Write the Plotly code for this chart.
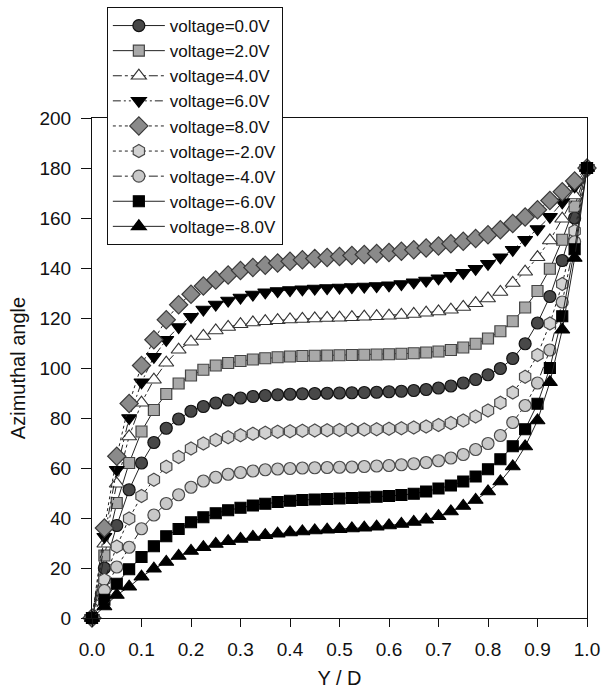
import plotly.graph_objects as go

# Y/D positions (41 points, step 0.025)
yd = [round(i * 0.025, 3) for i in range(41)]

v_p0 = [0, 20, 37, 51.3, 62, 70.2, 75.9, 79.6, 82.7, 84.6, 86, 87.2, 88, 88.6, 89, 89.3, 89.5,
        89.7, 89.8, 89.9, 90, 90.1, 90.2, 90.3, 90.5, 90.7, 91, 91.4, 92, 92.8, 94, 95.4, 97.3,
        99.8, 103.8, 109.7, 118, 128.6, 143, 160, 180]
v_p2 = [0, 25, 46, 62, 74.6, 83.2, 89.6, 93.8, 97, 99.3, 101, 102, 102.8, 103.4, 103.9, 104.3, 104.6,
        104.8, 104.9, 105, 105.1, 105.2, 105.3, 105.4, 105.5, 105.7, 105.9, 106.2, 106.6, 107.2, 108.2,
        109.7, 111.8, 114.7, 118.7, 124.2, 130.8, 139.7, 151.3, 164.6, 180]
v_p4 = [0, 29.7, 53.7, 72.6, 86.1, 95.3, 102.1, 107.3, 110.5, 112.8, 115, 116.4, 117.5, 118.2, 118.7,
        119.1, 119.4, 119.6, 119.8, 120, 120.1, 120.3, 120.5, 120.7, 120.9, 121.2, 121.6, 122.1, 122.6,
        123.3, 124.4, 125.9, 127.8, 130.4, 134, 138.5, 144.3, 151, 159.7, 169, 180]
v_p6 = [0, 32.5, 59.3, 80, 94.3, 104.5, 111.3, 116.4, 120.5, 123.4, 125.4, 127, 128.2, 129.4, 130.3,
        130.8, 131.2, 131.5, 131.8, 132, 132.2, 132.4, 132.6, 132.8, 133.1, 133.6, 134.3, 135, 135.9,
        136.9, 138.1, 139.7, 141.7, 144.3, 147.3, 151.3, 155.6, 160.5, 166.3, 172.7, 180]
v_p8 = [0, 36, 64.7, 85.8, 101, 111.3, 119.3, 125.3, 129.5, 132.8, 135.2, 137.2, 139, 140.2, 141.1,
        142, 142.7, 143.3, 143.8, 144.2, 144.6, 145, 145.4, 145.8, 146.2, 146.7, 147.3, 148, 148.8,
        149.7, 150.7, 151.8, 153.3, 155.3, 157.8, 160.4, 163.3, 167, 170.5, 174.8, 180]
v_m2 = [0, 15.3, 28.6, 39.8, 48.8, 55.3, 60.5, 64.4, 67.8, 69.8, 71.2, 72.3, 73.1, 73.7, 74.1, 74.5,
        74.7, 74.9, 75, 75.1, 75.2, 75.3, 75.4, 75.5, 75.7, 75.9, 76.2, 76.6, 77.2, 78, 79, 80.6, 83,
        86.1, 90.2, 96.5, 105.2, 117.8, 133.6, 154.8, 180]
v_m4 = [0, 11, 20.4, 28.3, 35.7, 41.2, 45.8, 49.3, 52.3, 54.8, 56.3, 57.5, 58.2, 58.8, 59.3, 59.6,
        59.8, 60, 60.1, 60.2, 60.3, 60.4, 60.6, 60.8, 61, 61.3, 61.7, 62.2, 62.9, 64, 65.4, 67.4, 69.8,
        73, 78.2, 85, 94, 107.2, 126.4, 150.5, 180]
v_m6 = [0, 7.3, 13.7, 19.5, 24.4, 28.7, 32.7, 35.6, 38.3, 40.3, 41.9, 43.1, 44.1, 45, 45.7, 46.4,
        46.9, 47.2, 47.4, 47.6, 47.8, 48, 48.2, 48.5, 48.8, 49.2, 49.7, 50.6, 51.8, 53, 54.6, 56.6,
        59.5, 63.5, 68.7, 75.5, 85.7, 100, 120.7, 147.5, 180]
v_m8 = [0, 4.6, 9.2, 12.5, 16.5, 19.7, 22.4, 24.8, 26.8, 28.3, 29.6, 30.7, 31.6, 32.4, 33.1, 33.7,
        34.2, 34.6, 35, 35.3, 35.5, 35.8, 36.1, 36.5, 37, 37.6, 38.4, 39.3, 40.7, 42.6, 44.8, 47.2,
        50.6, 54.6, 60.6, 68.6, 79, 94.3, 115.3, 144, 180]

names = ["voltage=0.0V", "voltage=2.0V", "voltage=4.0V", "voltage=6.0V", "voltage=8.0V",
         "voltage=-2.0V", "voltage=-4.0V", "voltage=-6.0V", "voltage=-8.0V"]
series = [v_p0, v_p2, v_p4, v_p6, v_p8, v_m2, v_m4, v_m6, v_m8]

styles = [
    dict(symbol="circle", fill="#484848", edge="#111111", size=12, dash="solid"),
    dict(symbol="square", fill="#a9a9a9", edge="#444444", size=11, dash="solid"),
    dict(symbol="triangle-up", fill="#ffffff", edge="#333333", size=13, dash="dashdot"),
    dict(symbol="triangle-down", fill="#000000", edge="#000000", size=13, dash="8px,3px,2px,3px,2px,3px"),
    dict(symbol="diamond", fill="#8a8a8a", edge="#3a3a3a", size=14, dash="dot"),
    dict(symbol="hexagon", fill="#d2d2d2", edge="#4a4a4a", size=13, dash="dot"),
    dict(symbol="circle", fill="#c8c8c8", edge="#4a4a4a", size=12, dash="dashdot"),
    dict(symbol="square", fill="#000000", edge="#000000", size=11, dash="solid"),
    dict(symbol="triangle-up", fill="#000000", edge="#000000", size=13, dash="solid"),
]

fig = go.Figure()
for name, vals, st in zip(names, series, styles):
    fig.add_trace(go.Scatter(
        x=yd, y=vals, name=name, mode="lines+markers",
        line=dict(color="#222222", width=1, dash=st["dash"]),
        marker=dict(symbol=st["symbol"], size=st["size"], color=st["fill"],
                    line=dict(color=st["edge"], width=1.2)),
        cliponaxis=False,
    ))

font_family = "Liberation Sans, Arial, sans-serif"
fig.update_layout(
    width=601, height=696,
    margin=dict(l=92, r=14, t=118, b=78, autoexpand=False),
    paper_bgcolor="white", plot_bgcolor="white",
    font=dict(family=font_family, size=19, color="#111111"),
    showlegend=True,
    legend=dict(
        x=0.03, y=1.222, xanchor="left", yanchor="top",
        bgcolor="white", bordercolor="#111111", borderwidth=1,
        font=dict(size=17, family=font_family, color="#111111"),
        itemwidth=52, tracegroupgap=0,
    ),
    xaxis=dict(
        range=[0, 1], dtick=0.1, tick0=0, tickformat=".1f",
        showgrid=False, zeroline=False, automargin=False,
        showline=True, linecolor="#111111", linewidth=1, mirror=True,
        ticks="outside", ticklen=8, tickcolor="#111111",
        ticklabelstandoff=6,
        title=dict(text="Y / D", font=dict(size=20), standoff=12),
    ),
    yaxis=dict(
        range=[0, 200], dtick=20, tick0=0,
        showgrid=False, zeroline=False, automargin=False,
        showline=True, linecolor="#111111", linewidth=1, mirror=True,
        ticks="outside", ticklen=10, tickcolor="#111111",
        ticklabelstandoff=6,
        title=dict(text="Azimuthal angle", font=dict(size=20), standoff=8),
    ),
)

fig.write_html(
    "out.html",
    config={"displayModeBar": False},
    post_script="document.body.style.margin='0px';document.body.style.overflow='hidden';",
)
